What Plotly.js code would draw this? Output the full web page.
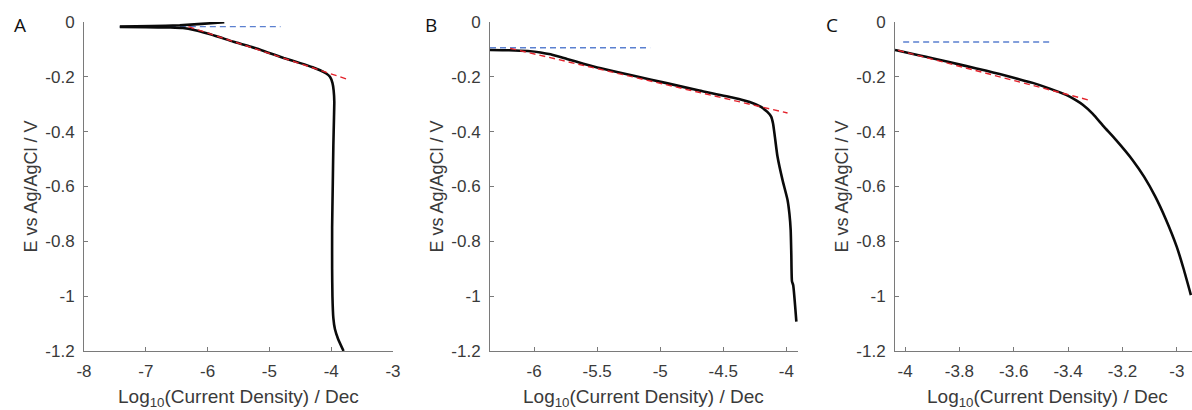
<!DOCTYPE html>
<html>
<head>
<meta charset="utf-8">
<script src="https://cdn.plot.ly/plotly-3.0.1.min.js"></script>
<style>html,body{margin:0;padding:0;background:#fff;}#chart{width:1192px;height:410px;}</style>
</head>
<body>
<div id="chart"></div>
<script>
// ---------- Data ----------
// Panel A
const aAnodicX = [-7.42, -6.9, -6.45, -6.1, -5.73];
const aAnodicY = [-0.017, -0.015, -0.012, -0.007, -0.001];
const aCathX = [-7.42, -7.0, -6.6, -6.4, -6.2, -6.0, -5.8, -5.58, -5.3, -5.04, -4.77, -4.5, -4.3, -4.18, -4.08, -4.02, -3.98, -3.96, -3.95, -3.955, -3.965, -3.975, -3.985, -3.985, -3.98, -3.965, -3.94, -3.89, -3.80];
const aCathY = [-0.018, -0.019, -0.020, -0.022, -0.030, -0.042, -0.056, -0.072, -0.090, -0.110, -0.131, -0.150, -0.165, -0.176, -0.188, -0.200, -0.222, -0.250, -0.290, -0.350, -0.450, -0.600, -0.750, -0.900, -1.000, -1.080, -1.120, -1.155, -1.200];
const aTafelX = [-6.31, -3.75];
const aTafelY = [-0.017, -0.208];
const aEcorrX = [-7.42, -4.82];
const aEcorrY = [-0.017, -0.017];

// Panel B
const bCurveX = [-6.35, -6.2, -6.05, -5.95, -5.87, -5.74, -5.61, -5.48, -5.21, -4.95, -4.69, -4.42, -4.29, -4.2, -4.15, -4.12, -4.105, -4.09, -4.07, -4.03, -3.99, -3.975, -3.965, -3.96, -3.955, -3.945, -3.92];
const bCurveY = [-0.102, -0.103, -0.106, -0.111, -0.118, -0.135, -0.152, -0.168, -0.196, -0.223, -0.250, -0.276, -0.292, -0.310, -0.328, -0.345, -0.370, -0.420, -0.490, -0.576, -0.649, -0.700, -0.760, -0.850, -0.945, -0.960, -1.093];
const bTafelX = [-6.19, -3.99];
const bTafelY = [-0.096, -0.332];
const bEcorrX = [-6.35, -5.08];
const bEcorrY = [-0.094, -0.094];

// Panel C
const cCurveX = [-4.037, -3.95, -3.896, -3.83, -3.774, -3.70, -3.652, -3.59, -3.530, -3.47, -3.407, -3.37, -3.346, -3.309, -3.27, -3.224, -3.163, -3.12, -3.08, -3.04, -3.00, -2.975, -2.948];
const cCurveY = [-0.102, -0.121, -0.133, -0.148, -0.161, -0.178, -0.190, -0.206, -0.222, -0.242, -0.266, -0.286, -0.302, -0.335, -0.380, -0.430, -0.503, -0.565, -0.635, -0.720, -0.820, -0.900, -0.996];
const cTafelX = [-4.061, -3.315];
const cTafelY = [-0.094, -0.287];
const cEcorrX = [-4.007, -3.456];
const cEcorrY = [-0.073, -0.073];

// Tick labels
const yTickVals = [0, -0.2, -0.4, -0.6, -0.8, -1, -1.2];
const yTickText = ['0', '-0.2', '-0.4', '-0.6', '-0.8', '-1', '-1.2'];
const aTickVals = [-8, -7, -6, -5, -4, -3];
const aTickText = ['-8', '-7', '-6', '-5', '-4', '-3'];
const bTickVals = [-6, -5.5, -5, -4.5, -4];
const bTickText = ['-6', '-5.5', '-5', '-4.5', '-4'];
const cTickVals = [-4, -3.8, -3.6, -3.4, -3.2, -3];
const cTickText = ['-4', '-3.8', '-3.6', '-3.4', '-3.2', '-3'];
const panelLetters = ['A', 'B', 'C'];
const xTitle = 'Log<sub>10</sub>(Current Density) / Dec';
const yTitle = 'E vs Ag/AgCl / V';

// ---------- Styling ----------
const W = 1192, H = 410;
const px = v => v / W;
const py = v => 1 - v / H;
const BLACK = '#0a0a0a', RED = '#e3222b', BLUE = '#5b80d0';
const TXT = '#3a3a3a', AX = '#7a7a7a';
const FONT = '"Liberation Sans", Arial, sans-serif';

function blk(x, y, xa, ya) {
  return {x, y, xaxis: xa, yaxis: ya, type: 'scatter', mode: 'lines',
    line: {color: BLACK, width: 2.6, shape: 'spline', smoothing: 0.5}, hoverinfo: 'skip'};
}
function dsh(x, y, xa, ya, c) {
  return {x, y, xaxis: xa, yaxis: ya, type: 'scatter', mode: 'lines',
    line: {color: c, width: 1.4, dash: '6px,4px'}, hoverinfo: 'skip'};
}

const traces = [
  dsh(aEcorrX, aEcorrY, 'x', 'y', BLUE),
  blk(aAnodicX, aAnodicY, 'x', 'y'),
  blk(aCathX, aCathY, 'x', 'y'),
  dsh(aTafelX, aTafelY, 'x', 'y', RED),
  dsh(bEcorrX, bEcorrY, 'x2', 'y2', BLUE),
  blk(bCurveX, bCurveY, 'x2', 'y2'),
  dsh(bTafelX, bTafelY, 'x2', 'y2', RED),
  dsh(cEcorrX, cEcorrY, 'x3', 'y3', BLUE),
  blk(cCurveX, cCurveY, 'x3', 'y3'),
  dsh(cTafelX, cTafelY, 'x3', 'y3', RED)
];

const yDom = [py(351), py(22)];
function xax(dom, range, tv, tt, anchor) {
  return {domain: dom, range, anchor, tickvals: tv, ticktext: tt,
    showline: true, linecolor: AX, linewidth: 1, mirror: false,
    ticks: 'inside', ticklen: 4, tickcolor: AX, tickwidth: 1,
    showgrid: false, zeroline: false, fixedrange: true,
    ticklabelstandoff: 5,
    tickfont: {family: FONT, size: 17, color: TXT}};
}
function yax(anchor) {
  return {domain: yDom, range: [-1.2, 0], anchor, tickvals: yTickVals, ticktext: yTickText,
    showline: true, linecolor: AX, linewidth: 1, mirror: false,
    ticks: 'inside', ticklen: 4, tickcolor: AX, tickwidth: 1,
    showgrid: false, zeroline: false, fixedrange: true,
    ticklabelstandoff: 5,
    tickfont: {family: FONT, size: 17, color: TXT}};
}

const panels = [
  {l: 84, r: 393, tc: 238},
  {l: 490, r: 798, tc: 643},
  {l: 895, r: 1192, tc: 1047}
];
const letterX = [20, 431, 832];

const annotations = [];
panels.forEach((p, i) => {
  annotations.push({xref: 'paper', yref: 'paper', x: px(p.tc), y: py(398), xanchor: 'center', yanchor: 'middle',
    text: xTitle, showarrow: false, font: {family: FONT, size: 19, color: TXT}});
  annotations.push({xref: 'paper', yref: 'paper', x: px(p.l - 53), y: py(186.5), xanchor: 'center', yanchor: 'middle',
    text: yTitle, textangle: -90, showarrow: false, font: {family: FONT, size: 18, color: TXT}});
  annotations.push({xref: 'paper', yref: 'paper', x: px(letterX[i]), y: py(25), xanchor: 'center', yanchor: 'middle',
    text: panelLetters[i], showarrow: false, font: {family: '"Open Sans", "Noto Sans", sans-serif', size: 19, color: '#111'}});
});

const layout = {
  width: W, height: H,
  margin: {l: 0, r: 0, t: 0, b: 0, pad: 0},
  paper_bgcolor: '#fff', plot_bgcolor: '#fff',
  showlegend: false,
  xaxis: xax([px(84), px(393)], [-8, -3], aTickVals, aTickText, 'y'),
  yaxis: yax('x'),
  xaxis2: xax([px(490), px(798)], [-6.35, -3.907], bTickVals, bTickText, 'y2'),
  yaxis2: yax('x2'),
  xaxis3: xax([px(895), 1], [-4.037, -2.944], cTickVals, cTickText, 'y3'),
  yaxis3: yax('x3'),
  annotations
};

Plotly.newPlot('chart', traces, layout, {displayModeBar: false, staticPlot: true});
</script>
</body>
</html>
